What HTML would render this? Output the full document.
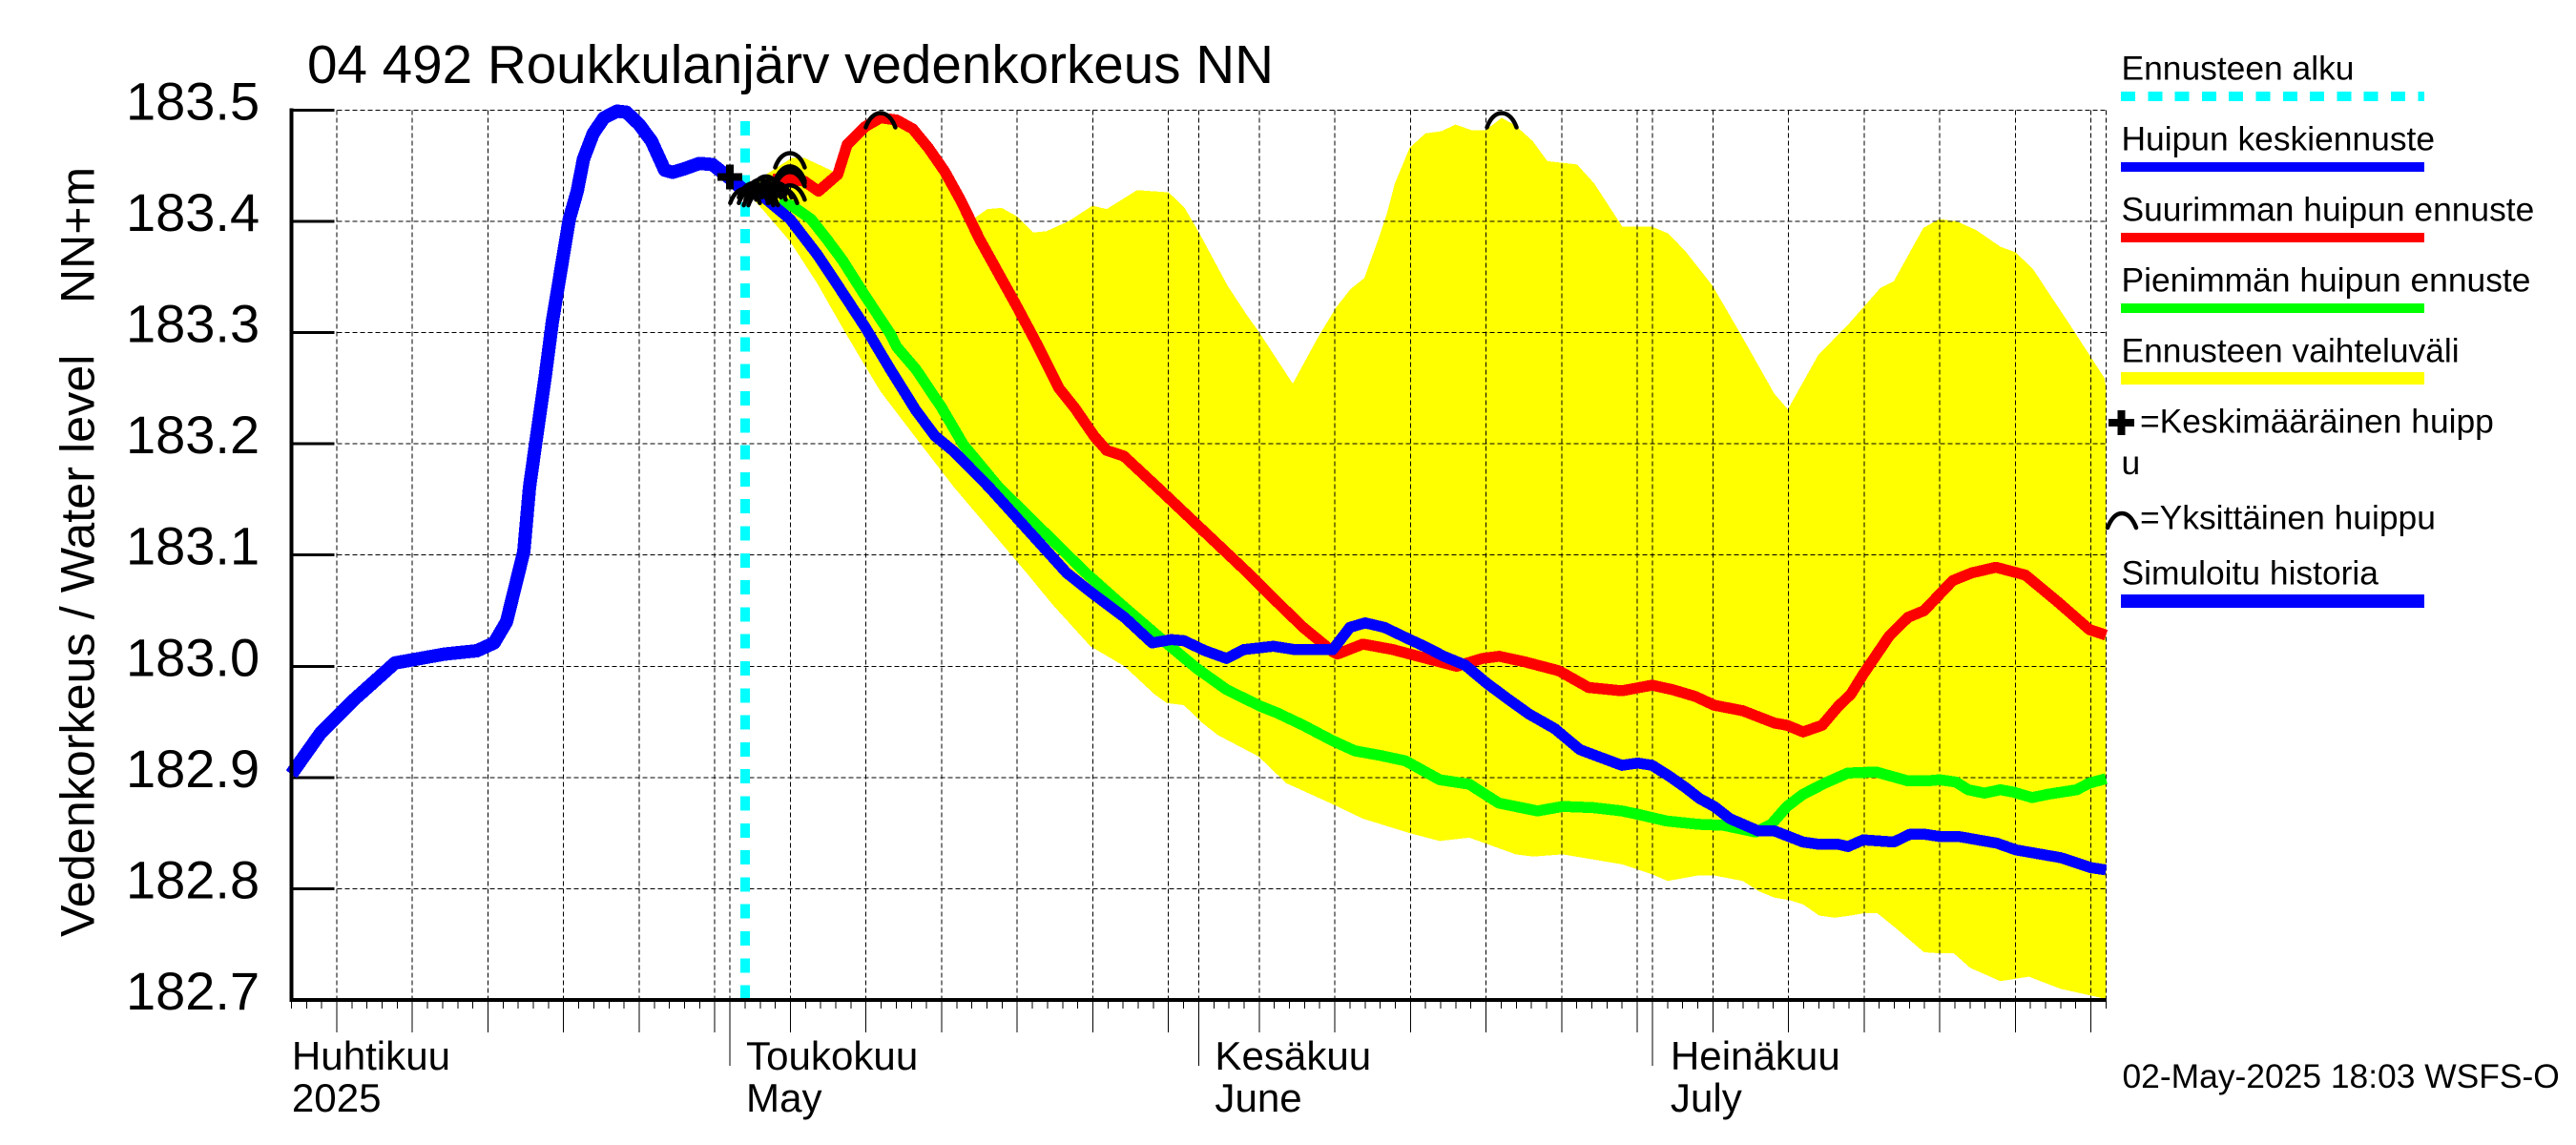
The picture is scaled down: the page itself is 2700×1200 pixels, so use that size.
<!DOCTYPE html>
<html lang="fi">
<head>
<meta charset="utf-8">
<title>04 492 Roukkulanjärv vedenkorkeus NN</title>
<style>
html,body{margin:0;padding:0;background:#fff;}
svg{display:block;font-family:"Liberation Sans",sans-serif;fill:#000;}
text{white-space:pre;}
.leg{font-size:35.4px;}
.tick{font-size:56px;}
.month{font-size:42.1px;}
</style>
</head>
<body>
<svg id="chart" xmlns="http://www.w3.org/2000/svg" width="2700" height="1200" viewBox="0 0 2700 1200">
  <rect x="0" y="0" width="2700" height="1200" fill="#fff"/>
  <g id="plot"></g>
  <text x="322" y="87" font-size="56.6">04 492 Roukkulanjärv vedenkorkeus NN</text>
  <text transform="translate(98.5,982) rotate(-90)" font-size="50.3">Vedenkorkeus / Water level</text>
  <text transform="translate(98.5,318) rotate(-90)" font-size="50">NN+m</text>

  <g>
    <g>
      <text class="leg" x="2223.5" y="83.5">Ennusteen alku</text>
      <line x1="2223" x2="2541" y1="101" y2="101" stroke="#00ffff" stroke-width="10" stroke-dasharray="15 13.3" shape-rendering="crispEdges"/>
    </g>
    <g>
      <text class="leg" x="2223.5" y="157.5">Huipun keskiennuste</text>
      <rect x="2223" y="170" width="318" height="10" fill="#0000ff"/>
    </g>
    <g>
      <text class="leg" x="2223.5" y="231.5">Suurimman huipun ennuste</text>
      <rect x="2223" y="244" width="318" height="10" fill="#ff0000"/>
    </g>
    <g>
      <text class="leg" x="2223.5" y="305.5">Pienimmän huipun ennuste</text>
      <rect x="2223" y="318" width="318" height="10" fill="#00ff00"/>
    </g>
    <g>
      <text class="leg" x="2223.5" y="379.5">Ennusteen vaihteluväli</text>
      <rect x="2223" y="390" width="318" height="13" fill="#ffff00"/>
    </g>
    <g>
      <rect x="2210" y="439" width="27" height="8" fill="#000"/>
      <rect x="2219.5" y="430" width="8" height="26" fill="#000"/>
      <text class="leg" x="2243" y="453.5">=Keskimääräinen huipp</text>
      <text class="leg" x="2223.5" y="497">u</text>
    </g>
    <g>
      <path d="M2209,553 C2213,543 2218,538 2224,538 C2230,538 2235,543 2239,553" fill="none" stroke="#000" stroke-width="4.5" stroke-linecap="round"/>
      <text class="leg" x="2243" y="554.5">=Yksittäinen huippu</text>
    </g>
    <g>
      <text class="leg" x="2223.5" y="612.5">Simuloitu historia</text>
      <rect x="2223" y="623" width="318" height="14" fill="#0000ff"/>
    </g>
  </g>
  <text x="2224.5" y="1140" font-size="35.4">02-May-2025 18:03 WSFS-O</text>
</svg>

<script>
// Days are counted from 1 April 2025 (day 0); levels in metres NN+m.
const yTickValues = [183.5, 183.4, 183.3, 183.2, 183.1, 183.0, 182.9, 182.8, 182.7];
const fiveDayTickDays = [4, 9, 14, 19, 24, 29, 34, 39, 44, 49, 54, 59, 65, 70, 75, 80, 85, 90, 95, 100, 105, 110, 115, 120];
const monthTickDays = [30, 61, 91];
const monthLabelsFi = ['Huhtikuu', 'Toukokuu', 'Kesäkuu', 'Heinäkuu'];
const monthLabelsEn = ['2025', 'May', 'June', 'July'];
const monthLabelDays = [1, 30, 61, 91];
const forecastStartDay = [31];

const historyDays = [1, 2.93, 5.14, 7.85, 11.13, 13.28, 14.41, 15.23, 16.37, 16.75, 17.17, 17.8, 18.26, 18.75, 19.38, 19.9, 20.32, 20.96, 21.67, 22.53, 23.16, 24, 24.82, 25.69, 26.21, 26.95, 27.98, 28.84, 29.87, 30.73, 31];
const historyLevels = [182.903, 182.94, 182.97, 183.003, 183.011, 183.014, 183.021, 183.04, 183.103, 183.161, 183.202, 183.262, 183.31, 183.35, 183.402, 183.427, 183.456, 183.479, 183.493, 183.499, 183.498, 183.487, 183.472, 183.446, 183.444, 183.447, 183.452, 183.451, 183.44, 183.43, 183.428];

const meanDays = [31, 32.2, 33.97, 35.78, 37.44, 38.94, 40.6, 42.3, 43.56, 44.82, 47.14, 52.27, 53.84, 56.09, 57.92, 59.19, 60.03, 61.42, 62.85, 63.98, 65.94, 67.35, 69.87, 71, 72, 73.28, 74.96, 76.08, 77.21, 78.62, 80.03, 81.41, 82.85, 84.54, 86.21, 88.98, 90.04, 90.98, 92.14, 93.19, 94.14, 95.09, 96.13, 98.01, 99.08, 100.97, 102.03, 103.29, 103.94, 104.95, 106.96, 108.02, 109.05, 109.99, 111.26, 113.78, 115.04, 118.01, 120, 121];
const meanLevels = [183.428, 183.422, 183.402, 183.37, 183.336, 183.305, 183.267, 183.23, 183.207, 183.193, 183.161, 183.084, 183.067, 183.044, 183.021, 183.024, 183.023, 183.014, 183.007, 183.015, 183.018, 183.015, 183.015, 183.035, 183.039, 183.035, 183.024, 183.017, 183.009, 183.001, 182.985, 182.971, 182.957, 182.944, 182.925, 182.911, 182.913, 182.911, 182.901, 182.891, 182.881, 182.874, 182.863, 182.852, 182.852, 182.842, 182.84, 182.84, 182.838, 182.844, 182.842, 182.849, 182.849, 182.847, 182.847, 182.841, 182.835, 182.828, 182.819, 182.817];

const lowDays = [33.26, 34.1, 35.36, 36.41, 37.44, 38.94, 40.6, 41.04, 42.3, 43.98, 45.45, 47.77, 53.53, 56.09, 58.32, 60.88, 62.85, 65.1, 66.21, 67.91, 69.87, 71.32, 72.96, 74.67, 76.94, 78.89, 80.85, 83.41, 85.07, 87.07, 88.98, 90.04, 91.93, 94.03, 95.72, 97.82, 98.87, 99.9, 100.97, 102.42, 103.92, 105.81, 106.84, 107.91, 109.17, 109.99, 111.07, 111.89, 112.96, 114.01, 114.85, 116.11, 117.17, 119.06, 119.9, 121];
const lowLevels = [183.417, 183.414, 183.402, 183.384, 183.365, 183.333, 183.299, 183.287, 183.267, 183.233, 183.199, 183.161, 183.084, 183.053, 183.027, 182.998, 182.979, 182.964, 182.958, 182.947, 182.933, 182.924, 182.92, 182.915, 182.898, 182.894, 182.877, 182.87, 182.874, 182.873, 182.87, 182.867, 182.861, 182.858, 182.857, 182.851, 182.858, 182.874, 182.885, 182.895, 182.904, 182.905, 182.901, 182.897, 182.897, 182.898, 182.896, 182.889, 182.886, 182.889, 182.887, 182.882, 182.885, 182.889, 182.895, 182.899];

const highDays = [32.84, 33.97, 34.92, 35.86, 37.13, 37.76, 38.94, 39.96, 41.04, 42.09, 43.12, 44.19, 45.25, 46.51, 47.77, 49.03, 50.29, 51.76, 52.82, 54.08, 54.92, 56.05, 58.26, 64.25, 65.94, 67.91, 69.87, 70.18, 71.86, 73.84, 75.23, 78.06, 79.75, 80.87, 82.55, 84.82, 86.78, 88.98, 90.98, 92.33, 93.82, 95.09, 96.98, 99.08, 99.9, 100.97, 102.23, 103.29, 104.13, 104.95, 106.65, 107.91, 108.97, 110.86, 112.12, 113.72, 115.67, 117.8, 119.9, 121];
const highLevels = [183.438, 183.438, 183.436, 183.427, 183.442, 183.469, 183.485, 183.493, 183.491, 183.483, 183.466, 183.445, 183.419, 183.384, 183.353, 183.322, 183.29, 183.25, 183.232, 183.207, 183.194, 183.189, 183.161, 183.084, 183.061, 183.035, 183.013, 183.011, 183.02, 183.015, 183.01, 183, 183.007, 183.009, 183.004, 182.996, 182.981, 182.978, 182.983, 182.979, 182.973, 182.965, 182.96, 182.949, 182.947, 182.941, 182.947, 182.964, 182.975, 182.993, 183.027, 183.044, 183.05, 183.077, 183.084, 183.089, 183.082, 183.058, 183.033, 183.028];

const rangeTopDays = [31, 32.39, 34.1, 34.92, 36.81, 37.13, 37.76, 38.94, 39.96, 41.04, 42.09, 43.12, 44.19, 45.25, 46.08, 47.03, 47.98, 49.03, 50.06, 50.92, 52.39, 53.97, 54.92, 56.92, 59.02, 60.07, 61.02, 62.91, 64.17, 65.01, 67.22, 68.86, 70.06, 71.04, 71.95, 72.83, 73.47, 73.97, 74.95, 75.99, 77.06, 77.98, 79.02, 80, 81.04, 81.95, 83.09, 84.06, 86.02, 87.16, 89.02, 90.98, 92.06, 93.19, 94.98, 96.78, 99.06, 99.96, 101.98, 103.94, 106.07, 106.96, 108.92, 109.97, 111.12, 112.42, 114.03, 115.03, 116.17, 118.61, 120.9, 121];
const rangeTopLevels = [183.428, 183.442, 183.457, 183.457, 183.445, 183.442, 183.469, 183.485, 183.488, 183.487, 183.478, 183.46, 183.44, 183.414, 183.402, 183.411, 183.412, 183.404, 183.39, 183.391, 183.4, 183.414, 183.411, 183.428, 183.426, 183.412, 183.39, 183.342, 183.316, 183.3, 183.254, 183.295, 183.322, 183.339, 183.349, 183.382, 183.408, 183.434, 183.466, 183.479, 183.481, 183.487, 183.482, 183.482, 183.493, 183.486, 183.472, 183.454, 183.451, 183.434, 183.395, 183.395, 183.389, 183.373, 183.342, 183.3, 183.245, 183.231, 183.28, 183.307, 183.34, 183.346, 183.394, 183.402, 183.4, 183.392, 183.377, 183.372, 183.357, 183.307, 183.259, 183.251];

const rangeBottomDays = [31, 32.2, 33.97, 35.78, 37.67, 38.94, 39.96, 42.49, 44.82, 49.62, 51.3, 53.84, 56.09, 58.07, 58.89, 60.03, 61.16, 62.29, 64.95, 66.78, 69.87, 71.86, 74.96, 76.94, 78.89, 81.98, 83.12, 85.07, 88.98, 90.98, 92.01, 94.03, 95.09, 96.98, 98.01, 99.08, 100.03, 100.97, 102.03, 103.05, 104.13, 104.95, 105.89, 107.07, 108.97, 109.99, 110.94, 112.01, 114.01, 115.9, 118.01, 120, 121];
const rangeBottomLevels = [183.428, 183.41, 183.382, 183.344, 183.299, 183.27, 183.247, 183.202, 183.161, 183.084, 183.056, 183.018, 183, 182.975, 182.967, 182.965, 182.95, 182.938, 182.919, 182.895, 182.876, 182.863, 182.85, 182.843, 182.846, 182.831, 182.829, 182.831, 182.822, 182.813, 182.807, 182.812, 182.812, 182.807, 182.798, 182.792, 182.79, 182.786, 182.776, 182.774, 182.776, 182.778, 182.778, 182.765, 182.743, 182.742, 182.742, 182.729, 182.717, 182.721, 182.71, 182.704, 182.701];

const singlePeakDays = [33.97, 33.97, 33.97, 33.97, 33.97, 31, 31.57, 32.01, 32.39, 32.71, 33.09, 33.47, 31.57, 32.01, 32.39, 32.71, 32.2, 31.89, 39.96, 81.04];
const singlePeakLevels = [183.463, 183.451, 183.449, 183.446, 183.434, 183.431, 183.436, 183.439, 183.442, 183.439, 183.436, 183.431, 183.431, 183.434, 183.436, 183.434, 183.429, 183.429, 183.499, 183.499];
const averagePeakDays = [30];
const averagePeakLevels = [183.44];

const X_LEFT = 305.4, X_PER_DAY = 15.85, DAY_MIN = 1, DAY_MAX = 121;
const Y_TOP = 115.3, Y_PER_M = 1166, LEVEL_MAX = 183.5, LEVEL_MIN = 182.7;
const AXIS_BOTTOM = Y_TOP + (LEVEL_MAX - LEVEL_MIN) * Y_PER_M;
function xScale(day) { return X_LEFT + (day - DAY_MIN) * X_PER_DAY; }
function yScale(level) { return Y_TOP + (LEVEL_MAX - level) * Y_PER_M; }

const SVG_NS = 'http://www.w3.org/2000/svg';
const plot = document.getElementById('plot');
function make(tag, attrs) {
  const el = document.createElementNS(SVG_NS, tag);
  for (const k in attrs) el.setAttribute(k, attrs[k]);
  plot.appendChild(el);
  return el;
}
function pointsOf(days, levels) {
  return days.map(function (d, i) { return xScale(d).toFixed(1) + ',' + yScale(levels[i]).toFixed(1); });
}
function seriesLine(days, levels, color, width) {
  return make('polyline', { points: pointsOf(days, levels).join(' '), fill: 'none', stroke: color, 'stroke-width': width, 'stroke-linejoin': 'round', 'stroke-linecap': 'butt', 'shape-rendering': 'crispEdges' });
}

// forecast range band
const band = make('polygon', {
  points: pointsOf(rangeTopDays, rangeTopLevels).concat(pointsOf(rangeBottomDays, rangeBottomLevels).reverse()).join(' '),
  fill: '#ffff00', 'shape-rendering': 'crispEdges'
});



// horizontal gridlines and y ticks
yTickValues.forEach(function (t) {
  const g = make('line', { x1: X_LEFT, x2: xScale(DAY_MAX), y1: yScale(t), y2: yScale(t), stroke: '#000', 'stroke-width': 1, 'stroke-dasharray': '5 3', 'shape-rendering': 'crispEdges' });
  
  
  const tk = make('line', { x1: X_LEFT, x2: X_LEFT + 45, y1: yScale(t), y2: yScale(t), stroke: '#000', 'stroke-width': 3, 'shape-rendering': 'crispEdges' });
  
  
  const lb = make('text', { x: 132, y: yScale(t) + 10, class: 'tick' });
  lb.textContent = t.toFixed(1);
  
  
});

// vertical gridlines
fiveDayTickDays.concat(monthTickDays, [DAY_MAX]).forEach(function (d) {
  const g = make('line', { x1: xScale(d), x2: xScale(d), y1: Y_TOP, y2: AXIS_BOTTOM, stroke: '#000', 'stroke-width': 1, 'stroke-dasharray': '5 3', 'shape-rendering': 'crispEdges' });
  
  
});

// x ticks: daily, five-day and monthly
for (let d = DAY_MIN; d <= DAY_MAX; d++) {
  let end = 9;
  if (fiveDayTickDays.indexOf(d) >= 0) end = 34;
  if (monthTickDays.indexOf(d) >= 0) end = 69;
  const tk = make('line', { x1: xScale(d), x2: xScale(d), y1: AXIS_BOTTOM, y2: AXIS_BOTTOM + end, stroke: '#000', 'stroke-width': 1, 'shape-rendering': 'crispEdges' });
  
  
}

// month labels
monthLabelDays.forEach(function (d, i) {
  const gap = i === 0 ? 0.5 : (i === 3 ? 19 : 17);
  const x = xScale(d) + gap;
  const a = make('text', { x: x, y: 1121, class: 'month' });
  a.textContent = monthLabelsFi[i];
  
  
  const b = make('text', { x: x, y: 1165, class: 'month' });
  b.textContent = monthLabelsEn[i];
  
  
});

// forecast start marker
const startLine = make('line', { x1: xScale(forecastStartDay[0]), x2: xScale(forecastStartDay[0]), y1: 127, y2: AXIS_BOTTOM, stroke: '#00ffff', 'stroke-width': 10, 'stroke-dasharray': '15 13.3', 'shape-rendering': 'crispEdges' });



// series
const historyLine = seriesLine(historyDays, historyLevels, '#0000ff', 14);


const lowLine = seriesLine(lowDays, lowLevels, '#00ff00', 11.5);


const highLine = seriesLine(highDays, highLevels, '#ff0000', 11.5);


const meanLine = seriesLine(meanDays, meanLevels, '#0000ff', 11.5);



// axes
const yAxis = make('line', { x1: X_LEFT, x2: X_LEFT, y1: Y_TOP - 2, y2: AXIS_BOTTOM + 2, stroke: '#000', 'stroke-width': 4, 'shape-rendering': 'crispEdges' });


const xAxis = make('line', { x1: X_LEFT - 2, x2: xScale(DAY_MAX), y1: AXIS_BOTTOM, y2: AXIS_BOTTOM, stroke: '#000', 'stroke-width': 4, 'shape-rendering': 'crispEdges' });



// single-peak arches
singlePeakDays.forEach(function (d, i) {
  const x = xScale(d), y = yScale(singlePeakLevels[i]) + 2;
  const arch = make('path', {
    d: 'M' + (x - 15.5) + ',' + (y + 15) + ' C' + (x - 12) + ',' + (y + 5) + ' ' + (x - 6) + ',' + y + ' ' + x + ',' + y + ' C' + (x + 6) + ',' + y + ' ' + (x + 12) + ',' + (y + 5) + ' ' + (x + 15.5) + ',' + (y + 15),
    fill: 'none', stroke: '#000', 'stroke-width': 4.5, 'stroke-linecap': 'round'
  });
  
  
});

// average-peak plus marker
averagePeakDays.forEach(function (d, i) {
  const x = xScale(d), y = yScale(averagePeakLevels[i]);
  const plus = make('path', { d: 'M' + (x - 13) + ',' + y + ' H' + (x + 13) + ' M' + x + ',' + (y - 13) + ' V' + (y + 13), fill: 'none', stroke: '#000', 'stroke-width': 8, 'shape-rendering': 'crispEdges' });
  
  
});
</script>
</body>
</html>
